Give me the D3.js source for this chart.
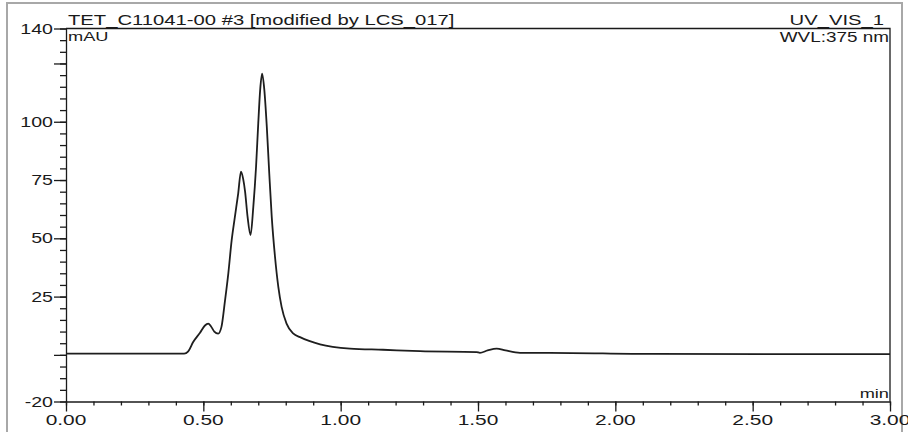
<!DOCTYPE html>
<html>
<head>
<meta charset="utf-8">
<script src="https://cdn.jsdelivr.net/npm/d3@7"></script>
<style>
  body { margin: 0; background: #fff; }
  svg { display: block; }
  text { font-family: "Liberation Sans", Arial, sans-serif; fill: #1a1a1a; }
</style>
</head>
<body>
<div class="chrom"></div>
<script>
// retention time (min) and absorbance (mAU)
const times = [0.00, 0.43, 0.445, 0.463, 0.488, 0.505, 0.518, 0.528, 0.540, 0.554,
    0.566, 0.579, 0.591, 0.603, 0.615, 0.627, 0.637, 0.645, 0.652, 0.661,
    0.672, 0.682, 0.692, 0.700, 0.707, 0.714, 0.722, 0.731, 0.740, 0.749,
    0.761, 0.773, 0.785, 0.803, 0.828, 0.852, 0.925, 1.034, 1.154, 1.289,
    1.495, 1.507, 1.535, 1.568, 1.60, 1.653, 1.76, 2.137, 3.00]
const mAU = [0.5, 0.5, 1.5, 5.5, 9.5, 12.5, 13.4, 12.2, 10.0, 9.1,
    12, 23.4, 35, 49, 59.3, 69.3, 78.6, 75.5, 70, 59.3,
    51.4, 63.6, 80.8, 99.4, 113.8, 120.6, 113.8, 98, 77.9, 59.3,
    42, 29.2, 20.6, 13.4, 9.1, 7.6, 4.5, 2.7, 2.2, 1.6,
    1.2, 0.9, 1.9, 2.7, 1.9, 0.9, 0.9, 0.4, 0.3]

const xMajor = [0, 0.5, 1, 1.5, 2, 2.5, 3]
const yMajor = [-20, 0, 25, 50, 75, 100, 125, 140]
const yLabelled = [-20, 25, 50, 75, 100, 140]

const title = "TET_C11041-00 #3 [modified by LCS_017]"
const channel = "UV_VIS_1"
const wavelength = "WVL:375 nm"

const width = 908
const height = 432
const margin = { top: 28.5, right: 18, bottom: 30.5, left: 66 }
const stretch = 1.35

const data = times.map((t, i) => ({ t: t, v: mAU[i] }))

const x = d3.scaleLinear()
    .domain([0, 3])
    .range([margin.left, width - margin.right])

const y = d3.scaleLinear()
    .domain([-20, 140])
    .range([height - margin.bottom, margin.top])

const svg = d3.select(".chrom")
    .append("svg")
    .attr("width", width)
    .attr("height", height)

// outer grey frame
svg.append("rect")
    .attr("x", 7)
    .attr("y", 3)
    .attr("width", 895)
    .attr("height", 440)
    .attr("fill", "none")
    .attr("stroke", "#a8a8a8")
    .attr("stroke-width", 2)

// wide-ish text like the original export
function wide(sel, px, py, anchor, size) {
    return sel
        .attr("transform", `translate(${px},${py}) scale(${stretch},1)`)
        .attr("text-anchor", anchor)
        .attr("font-size", size)
}

// minor ticks
svg.append("g")
    .attr("transform", `translate(${margin.left},0)`)
    .call(d3.axisLeft(y).tickValues(d3.range(-20, 141, 5)).tickSize(6).tickFormat(""))
    .call(g => g.select(".domain").remove())

svg.append("g")
    .attr("transform", `translate(0,${y(-20)})`)
    .call(d3.axisBottom(x).tickValues(d3.range(0, 3.001, 0.1)).tickSize(4).tickFormat(""))
    .call(g => g.select(".domain").remove())

// major ticks
svg.append("g")
    .attr("transform", `translate(${margin.left},0)`)
    .call(d3.axisLeft(y).tickValues(yMajor).tickSize(12).tickSizeOuter(0).tickFormat(""))

svg.append("g")
    .attr("transform", `translate(0,${y(-20)})`)
    .call(d3.axisBottom(x).tickValues(xMajor).tickSize(10).tickSizeOuter(0).tickFormat(""))

svg.selectAll(".tick line, .domain")
    .attr("stroke", "#1a1a1a")
    .attr("stroke-width", 1.3)

// tick labels
svg.append("g")
    .selectAll("text")
    .data(yLabelled)
    .join("text")
    .each(function (d) { wide(d3.select(this), margin.left - 13, y(d) + 5, "end", 14.5) })
    .text(d => d)

svg.append("g")
    .selectAll("text")
    .data(xMajor)
    .join("text")
    .each(function (d) { wide(d3.select(this), x(d), y(-20) + 23, "middle", 15.5) })
    .text(d => d3.format(".2f")(d))

// top and right border of the plot
svg.append("path")
    .attr("d", `M${x(0)},${y(140)}H${x(3)}V${y(-20)}`)
    .attr("fill", "none")
    .attr("stroke", "#1a1a1a")
    .attr("stroke-width", 1.3)

// trace
const line = d3.line()
    .x(d => x(d.t))
    .y(d => y(d.v))
    .curve(d3.curveMonotoneX)

svg.append("path")
    .datum(data)
    .attr("d", line)
    .attr("fill", "none")
    .attr("stroke", "#1e1e1e")
    .attr("stroke-width", 1.8)
    .attr("stroke-linejoin", "round")

// labels
wide(svg.append("text"), margin.left + 2, 24.5, "start", 15).text(title)
wide(svg.append("text"), x(3) - 6, 24.5, "end", 15).text(channel)
wide(svg.append("text"), x(3) - 1, 42, "end", 14).text(wavelength)
wide(svg.append("text"), margin.left + 2, 41, "start", 13.5).text("mAU")
wide(svg.append("text"), x(3) - 1, y(-20) - 4, "end", 13.5).text("min")
</script>
</body>
</html>
